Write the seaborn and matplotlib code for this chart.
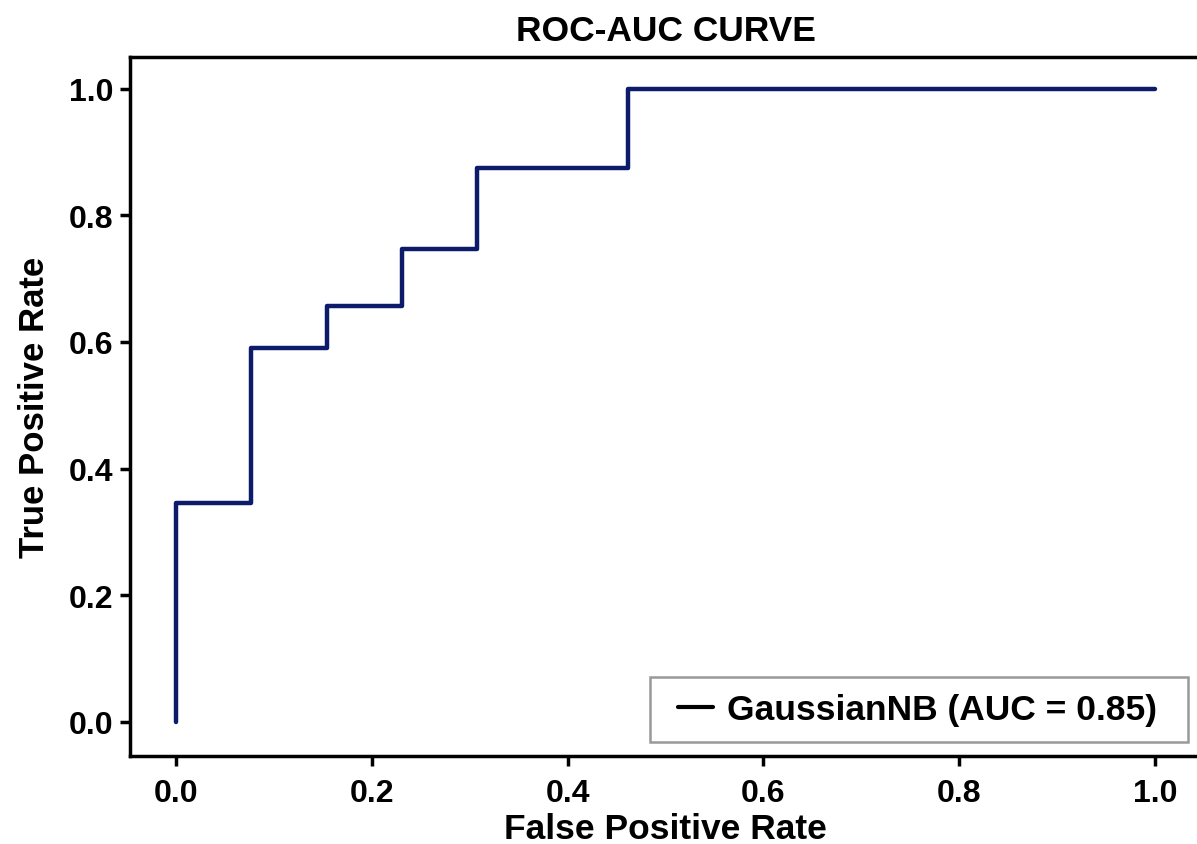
import matplotlib
matplotlib.use("Agg")
import matplotlib.pyplot as plt
from matplotlib.patches import Rectangle
import seaborn as sns
import pandas as pd

fpr = [0.0, 0.0, 0.0769, 0.0769, 0.1538, 0.1538, 0.2308, 0.2308, 0.3077, 0.3077, 0.4615, 0.4615, 1.0]
tpr = [0.0, 0.345, 0.345, 0.59, 0.59, 0.657, 0.657, 0.747, 0.747, 0.875, 0.875, 1.0, 1.0]
label = "GaussianNB (AUC = 0.85)"
xticks = [0.0, 0.2, 0.4, 0.6, 0.8, 1.0]
yticks = [0.0, 0.2, 0.4, 0.6, 0.8, 1.0]

sns.set_theme(style="white")
plt.rcParams['font.family'] = ['Liberation Sans', 'DejaVu Sans']
plt.rcParams['font.weight'] = 'bold'
plt.rcParams['text.color'] = 'black'
plt.rcParams['axes.labelcolor'] = 'black'
plt.rcParams['xtick.color'] = 'black'
plt.rcParams['ytick.color'] = 'black'

df = pd.DataFrame({"fpr": fpr, "tpr": tpr, "model": label})

W, H = 1197, 845
fig = plt.figure(figsize=(W / 100, H / 100), dpi=100)
ax = fig.add_axes([130 / W, (H - 757) / H, 1.0 - 130 / W + 0.004, (757 - 58) / H])

sns.lineplot(data=df, x="fpr", y="tpr", hue="model", palette=["#0d1b6b"],
             sort=False, estimator=None, linewidth=3.2, ax=ax)

ax.set_xlim(-0.047, 1.048)
ax.set_ylim(-0.054, 1.05)
ax.set_xticks(xticks)
ax.set_yticks(yticks)
ax.set_xticklabels([f"{t:.1f}" for t in xticks], fontsize=23, fontweight='bold')
ax.set_yticklabels([f"{t:.1f}" for t in yticks], fontsize=23, fontweight='bold')
ax.tick_params(axis='both', direction='out', length=7, width=2.5, color='black',
               bottom=True, left=True)
ax.tick_params(axis='x', pad=9)
ax.tick_params(axis='y', pad=5)
for s in ['left', 'bottom', 'top']:
    ax.spines[s].set_color('black')
    ax.spines[s].set_linewidth(2.5)
ax.spines['right'].set_visible(False)

ax.set_xlabel("False Positive Rate", fontsize=25.5, fontweight='bold', labelpad=3)
ax.set_ylabel("True Positive Rate", fontsize=25, fontweight='bold', labelpad=13)
ax.set_title("ROC-AUC CURVE", fontsize=25.5, fontweight='bold', pad=12)

# legend entry (no own frame) inside a frame box like the reference
leg = ax.legend(loc='center left', bbox_to_anchor=(678 / W, (H - 711) / H),
                bbox_transform=fig.transFigure, fontsize=25.5,
                frameon=False, handlelength=1.0, handletextpad=0.37,
                borderpad=0.0, borderaxespad=0.0)
for t in leg.get_texts():
    t.set_fontweight('bold')
    t.set_color('black')
for h in leg.get_lines():
    h.set_color('black')
    h.set_linewidth(3)
frame = Rectangle((650 / W, (H - 743) / H), (1188 - 650) / W, (743 - 678) / H,
                  transform=fig.transFigure, facecolor='white', edgecolor='#999999',
                  linewidth=1.8, zorder=4)
ax.add_artist(frame)
leg.set_zorder(5)

fig.savefig("out.png", dpi=100)
